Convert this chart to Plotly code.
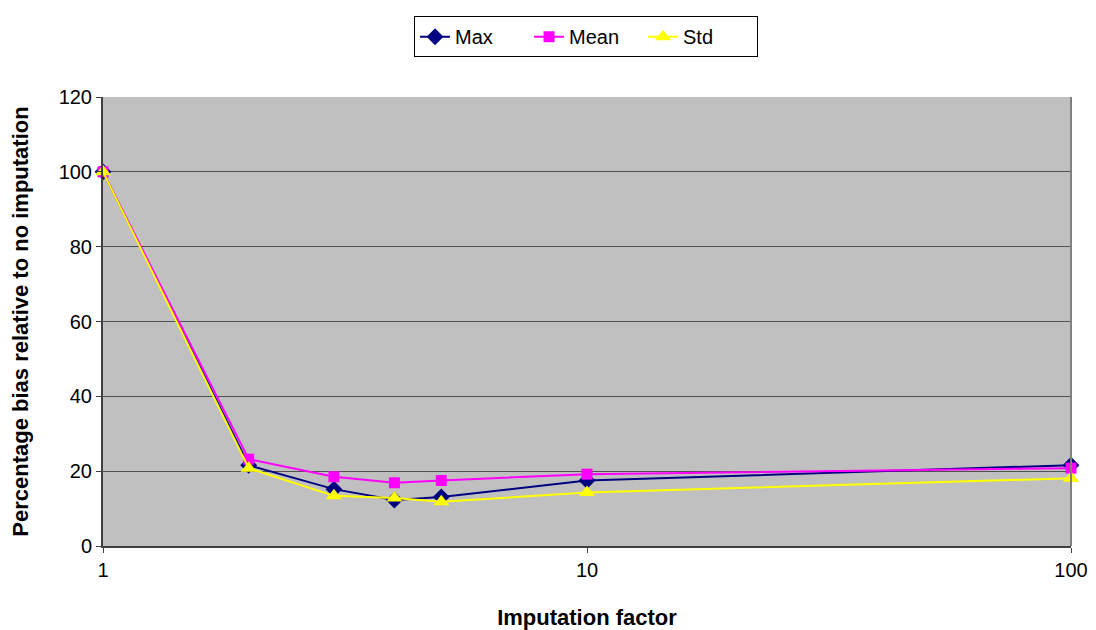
import plotly.graph_objects as go

factors = [1, 2, 3, 4, 5, 10, 100]
max_vals = [100, 21.6, 15.2, 12.3, 13.1, 17.5, 21.6]
mean_vals = [100, 23.2, 18.5, 16.9, 17.5, 19.2, 20.8]
std_vals = [100, 20.8, 13.4, 12.8, 11.8, 14.3, 18.1]

fig = go.Figure()
fig.add_trace(go.Scatter(x=factors, y=max_vals, name="Max", mode="lines+markers",
                         line=dict(color="#000080", width=2), cliponaxis=False,
                         marker=dict(symbol="diamond", size=13, color="#000080")))
fig.add_trace(go.Scatter(x=factors, y=mean_vals, name="Mean", mode="lines+markers",
                         line=dict(color="#FF00FF", width=2), cliponaxis=False,
                         marker=dict(symbol="square", size=11, color="#FF00FF")))
fig.add_trace(go.Scatter(x=factors, y=std_vals, name="Std", mode="lines+markers",
                         line=dict(color="#FFFF00", width=2), cliponaxis=False,
                         marker=dict(symbol="triangle-up", size=14, color="#FFFF00")))

font = "Liberation Sans, Arial, sans-serif"
fig.update_layout(
    width=1096, height=630,
    margin=dict(l=103, r=25, t=97, b=84),
    paper_bgcolor="white", plot_bgcolor="#C0C0C0",
    font=dict(family=font, size=20, color="black"),
    showlegend=True,
    legend=dict(orientation="h", x=0.499, xanchor="center", y=1.18, yanchor="top",
                bordercolor="black", borderwidth=1, bgcolor="white",
                font=dict(size=20), tracegroupgap=0, entrywidth=69, entrywidthmode="pixels"),
    xaxis=dict(type="log", range=[0, 2], tickvals=[1, 10, 100], ticktext=["1", "10", "100"],
               showgrid=False, zeroline=False, ticks="outside", ticklen=5, automargin=False,
               tickcolor="#404040", showline=True, linecolor="#404040", linewidth=2,
               title=dict(text="<b>Imputation factor</b>", font=dict(size=22), standoff=30)),
    yaxis=dict(range=[0, 120], dtick=20, showgrid=True, gridcolor="#505050", gridwidth=1,
               zeroline=False, ticks="outside", ticklen=5, tickcolor="#404040", automargin=False,
               showline=True, linecolor="#404040", linewidth=2,
               title=dict(text="<b>Percentage bias relative to no imputation</b>",
                          font=dict(size=22), standoff=24)),
)
fig.add_shape(type="line", xref="paper", yref="paper", x0=1, x1=1, y0=0, y1=1,
              line=dict(color="#808080", width=2))
fig.write_html("out.html")
